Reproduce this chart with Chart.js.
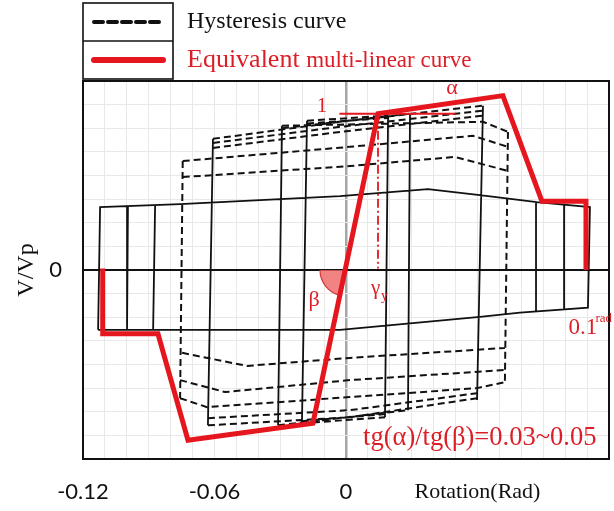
<!DOCTYPE html>
<html>
<head>
<meta charset="utf-8">
<script src="https://cdn.jsdelivr.net/npm/chart.js@4.4.1/dist/chart.umd.min.js"></script>
<style>
  html, body { margin: 0; padding: 0; background: #fff; }
</style>
</head>
<body>
<canvas id="chart" width="614" height="511"></canvas>
<script>
// Hysteresis loops (rotation in rad, shear V/Vp) and the equivalent multi-linear backbone

// tick labels on the rotation axis
var xTickLabels = { '-0.12': '-0.12', '-0.06': '-0.06', '0': '0', '0.06': 'Rotation(Rad)' };
var yTickLabels = { '0': '0' };

// equivalent multi-linear curve [rotation, V/Vp]
var multiLinear = [
  [-0.1110, 0.010], [-0.1110, -0.405], [-0.0858, -0.405], [-0.0721, -1.081],
  [-0.0151, -0.973], [0.0146, 0.992], [0.0716, 1.107], [0.0894, 0.437],
  [0.1095, 0.437], [0.1095, 0.000]
];

// large-drift loop after strength loss
var outerLoop = [
  [-0.1131, -0.380], [-0.1122, 0.399], [-0.0757, 0.418], [-0.0027, 0.469],
  [0.0374, 0.514], [0.0611, 0.475], [0.0871, 0.431], [0.1113, 0.399],
  [0.1104, -0.239], [0.0794, -0.271], [0.0611, -0.297], [-0.0027, -0.380],
  [-0.1131, -0.380]
];

// unloading branches drawn solid [xTop, yTop, xBottom, yBottom]
var solidBranches = [
  [-0.0995, 0.406, -0.0999, -0.380],
  [-0.0871, 0.412, -0.0880, -0.380],
  [0.0867, 0.431, 0.0867, -0.263],
  [0.0995, 0.415, 0.0995, -0.250],
  [-0.0607, 0.833, -0.0630, -0.986],
  [-0.0292, 0.916, -0.0310, -0.986],
  [-0.0178, 0.948, -0.0201, -0.973],
  [0.0192, 0.980, 0.0178, -0.935],
  [0.0292, 0.992, 0.0283, -0.890],
  [0.0625, 1.043, 0.0598, -0.826]
];

// upper branches of the cyclic loops
var loopTops = [
  [[-0.0745, 0.692], [0.0018, 0.782], [0.0579, 0.852], [0.0739, 0.782]],
  [[-0.0745, 0.590], [0.0018, 0.660], [0.0497, 0.718], [0.0739, 0.629]],
  [[-0.0607, 0.833], [-0.0027, 0.941], [0.0625, 1.043]],
  [[-0.0607, 0.807], [-0.0027, 0.909], [0.0625, 1.012]],
  [[-0.0607, 0.775], [-0.0027, 0.877], [0.0625, 0.980]],
  [[-0.0292, 0.916], [0.0625, 0.941], [0.0739, 0.877]],
  [[-0.0292, 0.900], [0.0292, 0.992]],
  [[-0.0178, 0.948], [0.0192, 0.980]],
  [[-0.0178, 0.930], [0.0192, 0.965]]
];

// lower branches of the cyclic loops
var loopBottoms = [
  [[-0.0748, -0.526], [-0.0452, -0.609], [0.0018, -0.558], [0.0725, -0.495]],
  [[-0.0757, -0.699], [-0.0552, -0.775], [0.0018, -0.699], [0.0725, -0.635]],
  [[-0.0757, -0.814], [-0.0634, -0.871], [0.0018, -0.807], [0.0598, -0.750], [0.0725, -0.712]],
  [[-0.0630, -0.941], [0.0018, -0.890], [0.0598, -0.782]],
  [[-0.0630, -0.986], [0.0018, -0.935], [0.0598, -0.814]],
  [[-0.0310, -0.986], [0.0283, -0.890]],
  [[-0.0201, -0.973], [0.0178, -0.935]],
  [[-0.0201, -0.960], [0.0178, -0.915]]
];

// reloading branches of the 0.074 rad cycles
var loopSides = [
  [[-0.0745, 0.692], [-0.0757, -0.814]],
  [[0.0739, 0.877], [0.0725, -0.712]]
];

var RED = '#e5161d';
var TEXT_RED = '#dc1e26';

function pts(list) {
  return list.map(function (p) { return { x: p[0], y: p[1] }; });
}

// join several polylines into one dataset, broken by gaps
function joined(lines) {
  var out = [];
  lines.forEach(function (l, i) {
    if (i > 0) out.push({ x: null, y: null });
    out = out.concat(pts(l));
  });
  return out;
}

var solidLines = [outerLoop].concat(solidBranches.map(function (b) {
  return [[b[0], b[1]], [b[2], b[3]]];
}));
var dashedLines = loopTops.concat(loopBottoms, loopSides);

var yieldPt = multiLinear[5];

var datasets = [
  {
    label: 'Equivalent multi-linear curve',
    data: pts(multiLinear),
    borderColor: RED, borderWidth: 5, borderJoinStyle: 'miter', borderCapStyle: 'butt'
  },
  {
    label: 'yield rotation',
    data: pts([[yieldPt[0], yieldPt[1]], [yieldPt[0], 0.01]]),
    borderColor: RED, borderWidth: 1.8, borderDash: [9, 3, 2, 3]
  },
  {
    label: 'post-yield slope',
    data: pts([[-0.003, yieldPt[1]], [0.050, yieldPt[1]]]),
    borderColor: RED, borderWidth: 2
  },
  {
    label: 'Hysteresis curve',
    data: joined(dashedLines),
    borderColor: '#111', borderWidth: 2, borderDash: [7, 4]
  },
  {
    label: 'hysteresis (solid)',
    data: joined(solidLines),
    borderColor: '#111', borderWidth: 1.8
  }
];
datasets.forEach(function (d) {
  d.showLine = true;
  d.pointRadius = 0;
  d.spanGaps = false;
  d.tension = 0;
  d.fill = false;
});

function keyOf(v) {
  var r = Math.round(v * 100) / 100;
  return String(r === 0 ? 0 : r);
}

function isZero(c) {
  return c.tick && Math.abs(c.tick.value) < 1e-9;
}

// frame, legend box, β wedge and red notes
var decorations = {
  id: 'decorations',
  beforeDatasetsDraw: function (chart) {
    var xs = chart.scales.x, ys = chart.scales.y, ctx = chart.ctx;
    var cx = xs.getPixelForValue(0), cy = ys.getPixelForValue(0);
    var p = multiLinear[4];
    var ang = Math.atan2(ys.getPixelForValue(p[1]) - cy, xs.getPixelForValue(p[0]) - cx);
    ctx.save();
    ctx.beginPath();
    ctx.moveTo(cx, cy);
    ctx.arc(cx, cy, 26, ang, Math.PI);
    ctx.closePath();
    ctx.fillStyle = 'rgba(238,100,100,0.8)';
    ctx.fill();
    ctx.beginPath();
    ctx.arc(cx, cy, 26, ang, Math.PI);
    ctx.strokeStyle = '#d23a3a';
    ctx.lineWidth = 1.2;
    ctx.stroke();
    ctx.restore();
  },
  afterDraw: function (chart) {
    var ctx = chart.ctx, a = chart.chartArea;
    var xs = chart.scales.x, ys = chart.scales.y;
    ctx.save();

    // plot frame
    ctx.strokeStyle = '#111';
    ctx.lineWidth = 2;
    ctx.strokeRect(a.left, a.top, a.right - a.left, a.bottom - a.top);

    // legend box
    var bx = a.left, by = 3, bw = 90, bh = 76;
    ctx.lineWidth = 1.6;
    ctx.strokeRect(bx, by, bw, bh);
    ctx.beginPath();
    ctx.moveTo(bx, by + bh / 2);
    ctx.lineTo(bx + bw, by + bh / 2);
    ctx.stroke();

    var hyst = chart.data.datasets[3], eq = chart.data.datasets[0];
    ctx.beginPath();
    ctx.setLineDash([9, 5]);
    ctx.lineWidth = 4;
    ctx.lineCap = 'round';
    ctx.strokeStyle = hyst.borderColor;
    ctx.moveTo(bx + 11, by + bh / 4);
    ctx.lineTo(bx + 80, by + bh / 4);
    ctx.stroke();
    ctx.setLineDash([]);
    ctx.beginPath();
    ctx.lineWidth = 6;
    ctx.strokeStyle = eq.borderColor;
    ctx.moveTo(bx + 11, by + bh * 3 / 4);
    ctx.lineTo(bx + 80, by + bh * 3 / 4);
    ctx.stroke();

    ctx.textBaseline = 'middle';
    ctx.textAlign = 'left';
    ctx.fillStyle = '#111';
    ctx.font = '24px "Liberation Serif"';
    ctx.fillText(hyst.label, bx + bw + 14, by + bh / 4);
    ctx.fillStyle = TEXT_RED;
    ctx.font = '26px "Liberation Serif"';
    ctx.fillText('Equivalent', bx + bw + 14, by + bh * 3 / 4);
    var w = ctx.measureText('Equivalent ').width;
    ctx.font = '23px "Liberation Serif"';
    ctx.fillText('multi-linear curve', bx + bw + 14 + w, by + bh * 3 / 4 + 1);

    // notes on the curves
    function note(text, x, y, size, align) {
      ctx.font = size + 'px "Liberation Serif"';
      ctx.textAlign = align || 'center';
      ctx.fillText(text, xs.getPixelForValue(x), ys.getPixelForValue(y));
    }
    ctx.fillStyle = TEXT_RED;
    note('1', -0.011, 1.04, 21);
    note('\u03b1', 0.0484, 1.155, 22);
    note('\u03b2', -0.0145, -0.19, 22);
    note('\u03b3', 0.0135, -0.12, 21);
    note('y', 0.0160, -0.17, 14, 'left');
    note('0.1', 0.1015, -0.37, 23, 'left');
    note('rad', 0.1138, -0.31, 13, 'left');
    note('tg(\u03b1)/tg(\u03b2)=0.03~0.05', 0.0078, -1.066, 26.5, 'left');
    ctx.restore();
  }
};

new Chart(document.getElementById('chart'), {
  type: 'scatter',
  data: { datasets: datasets },
  options: {
    responsive: false,
    animation: false,
    devicePixelRatio: 1,
    layout: { padding: { top: 81, right: 5, left: 0, bottom: 0 } },
    plugins: { legend: { display: false }, tooltip: { enabled: false } },
    scales: {
      x: {
        type: 'linear',
        min: -0.12, max: 0.12,
        afterFit: function (s) { s.height = 52; },
        border: { display: false },
        grid: {
          drawTicks: true,
          tickLength: 20,
          tickColor: 'rgba(0,0,0,0)',
          color: function (c) { return isZero(c) ? '#a6a6a6' : '#e8e8e8'; },
          lineWidth: function (c) { return isZero(c) ? 2.5 : 1; }
        },
        ticks: {
          stepSize: 0.01,
          autoSkip: false,
          maxRotation: 0,
          padding: 0,
          color: '#111',
          font: function (c) {
            if (c.tick && Math.abs(c.tick.value - 0.06) < 1e-9) return { family: 'Liberation Serif', size: 22 };
            return { family: 'Lato', size: 22 };
          },
          callback: function (v) { return xTickLabels[keyOf(v)] || ''; }
        }
      },
      y: {
        type: 'linear',
        min: -1.2, max: 1.2,
        afterFit: function (s) { s.width = 83; },
        border: { display: false },
        title: {
          display: true, text: 'V/Vp', color: '#111', padding: { top: 12, bottom: 0 },
          font: { family: 'Liberation Serif', size: 24 }
        },
        grid: {
          drawTicks: true,
          tickLength: 21,
          tickColor: 'rgba(0,0,0,0)',
          color: function (c) { return isZero(c) ? '#111' : '#e8e8e8'; },
          lineWidth: function (c) { return isZero(c) ? 2 : 1; }
        },
        ticks: {
          stepSize: 0.15,
          autoSkip: false,
          padding: 0,
          color: '#111',
          font: { family: 'Lato', size: 22 },
          callback: function (v) { return yTickLabels[keyOf(v)] || ''; }
        }
      }
    }
  },
  plugins: [decorations]
});
</script>
</body>
</html>
